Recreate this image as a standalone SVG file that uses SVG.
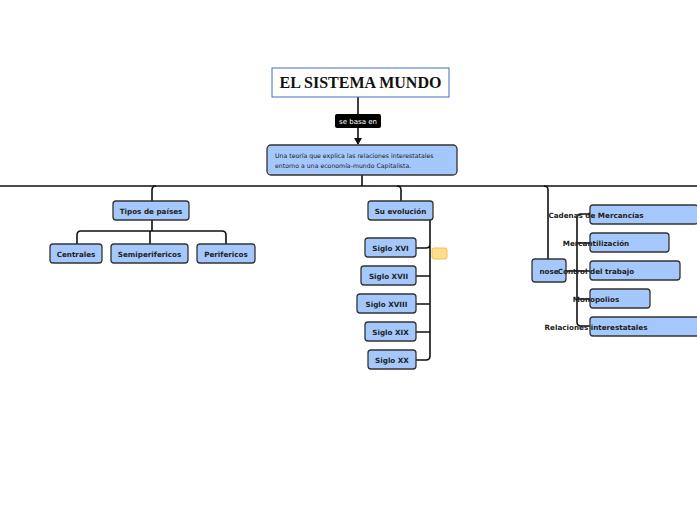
<svg xmlns="http://www.w3.org/2000/svg" width="697" height="520" viewBox="0 0 697 520">
<style>
.n{fill:#a4c8fb;stroke:#333;stroke-width:1.3}
.t{font-family:"DejaVu Sans",sans-serif;font-weight:bold;font-size:7.2px;fill:#222;text-anchor:middle}
.c{fill:none;stroke:#111;stroke-width:1.6}
</style>
<defs><marker id="a" markerWidth="8" markerHeight="8" refX="6" refY="4" orient="auto" markerUnits="userSpaceOnUse"><path d="M0,0L7,4L0,8z" fill="#111"/></marker></defs>
<rect width="697" height="520" fill="#fff"/>
<g id="connectors">
<path class="c" d="M358,97 L358,114 M358,128 L358,144" marker-end="url(#a)"/>
<path class="c" d="M0,186 H697 M362,175 V186"/>
<path class="c" d="M152,201 V190 Q152,186 156,186 M152,220 V231 M77,244 V235 Q77,231 81,231 H222 Q226,231 226,235 V244 M150,231 V244"/>
<path class="c" d="M401,201 V190 Q401,186 397,186 M430,220 V356 Q430,360 426,360 H416 M416,248 H426 Q430,248 430,244 M416,276 H430 M416,304 H430 M416,332 H430"/>
<path class="c" d="M548,259 V190 Q548,186 544,186 M566,271 H590 M590,214 H581 Q577,214 577,218 V322 Q577,326 581,326 H590 M577,243 H590 M577,299 H590"/>
</g>
<g id="title"><rect x="272" y="68" width="177" height="29" fill="#fff" stroke="#3a6fc4" stroke-width="1"/><text x="360.5" y="88" font-family="Liberation Serif,serif" font-weight="bold" font-size="16" text-anchor="middle" fill="#111">EL SISTEMA MUNDO</text></g>
<g id="label"><rect x="335" y="114" width="46" height="14" rx="2" fill="#000"/><text x="358" y="124" font-family="DejaVu Sans,sans-serif" font-size="7" fill="#fff" text-anchor="middle">se basa en</text></g>
<g id="main"><rect class="n" x="267" y="145" width="190" height="30" rx="4"/><text x="275" y="158" font-family="DejaVu Sans,sans-serif" font-size="6.2" fill="#222">Una teoría que explica las relaciones interestatales</text><text x="275" y="168" font-family="DejaVu Sans,sans-serif" font-size="6.2" fill="#222">entorno a una economía-mundo Capitalista.</text></g>
<g id="tipos"><rect class="n" x="113" y="201" width="76" height="19" rx="3"/><text class="t" x="151" y="213.5">Tipos de países</text></g>
<g id="centrales"><rect class="n" x="50" y="244" width="52" height="19" rx="3"/><text class="t" x="76" y="256.5">Centrales</text></g>
<g id="semi"><rect class="n" x="111" y="244" width="77" height="19" rx="3"/><text class="t" x="149.5" y="256.5">Semiperifericos</text></g>
<g id="perif"><rect class="n" x="197" y="244" width="58" height="19" rx="3"/><text class="t" x="226" y="256.5">Perifericos</text></g>
<g id="evol"><rect class="n" x="368" y="201" width="65" height="19" rx="3"/><text class="t" x="400.5" y="213.5">Su evolución</text></g>
<g id="s16"><rect class="n" x="365" y="238" width="51" height="19" rx="3"/><text class="t" x="390.5" y="250.5">Siglo XVI</text></g>
<g id="s17"><rect class="n" x="361" y="266" width="55" height="19" rx="3"/><text class="t" x="388.5" y="278.5">Siglo XVII</text></g>
<g id="s18"><rect class="n" x="357" y="294" width="59" height="19" rx="3"/><text class="t" x="386.5" y="306.5">Siglo XVIII</text></g>
<g id="s19"><rect class="n" x="365" y="322" width="51" height="19" rx="3"/><text class="t" x="390.5" y="334.5">Siglo XIX</text></g>
<g id="s20"><rect class="n" x="368" y="350" width="48" height="19" rx="3"/><text class="t" x="392" y="362.5">Siglo XX</text></g>
<g id="note"><rect x="432" y="248" width="15" height="11" rx="2" fill="#fedd8f" stroke="#f5c242" stroke-width="1"/></g>
<g id="nose"><rect class="n" x="532" y="259" width="34" height="23" rx="3"/><text class="t" x="549" y="273.5">nose</text></g>
<g id="cadenas"><rect class="n" x="590" y="205" width="108" height="19" rx="3"/><text class="t" x="596" y="217.5" text-anchor="start">Cadenas de Mercancías</text></g>
<g id="merc"><rect class="n" x="590" y="233" width="79" height="19" rx="3"/><text class="t" x="596" y="245.5" text-anchor="start">Mercantilización</text></g>
<g id="control"><rect class="n" x="590" y="261" width="90" height="19" rx="3"/><text class="t" x="596" y="273.5" text-anchor="start">Control del trabajo</text></g>
<g id="mono"><rect class="n" x="590" y="289" width="60" height="19" rx="3"/><text class="t" x="596" y="301.5" text-anchor="start">Monopolios</text></g>
<g id="rel"><rect class="n" x="590" y="317" width="110" height="19" rx="3"/><text class="t" x="596" y="329.5" text-anchor="start">Relaciones interestatales</text></g>
</svg>
